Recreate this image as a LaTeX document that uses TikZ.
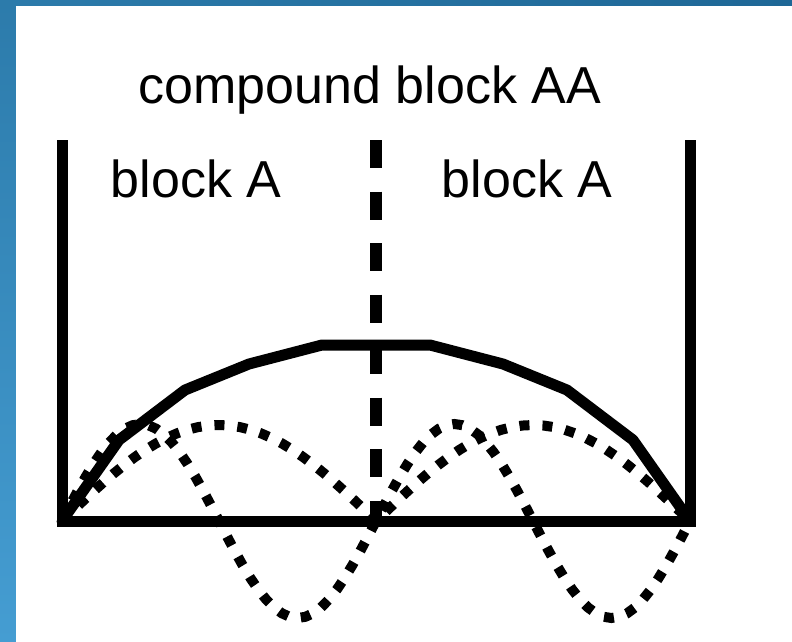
\documentclass[tikz,border=0pt]{standalone}
\usepackage{fontspec}
\setmainfont{Liberation Sans}
\usepackage{tikz}

\definecolor{frameTop}{HTML}{1E6796}
\definecolor{frameMid}{HTML}{2C7BAB}
\definecolor{frameLow}{HTML}{459DD2}

\begin{document}
\begin{tikzpicture}[
    x=1pt, y=-1pt,
    txt/.style={font=\fontsize{52}{60}\selectfont, anchor=base, inner sep=0pt},
    wall/.style={line width=11pt, line join=miter},
    divider/.style={line width=12pt, dash pattern=on 28pt off 23.5pt},
    envelope/.style={line width=11pt, line join=round, line cap=round},
    mode/.style={line width=10pt, dash pattern=on 10pt off 13pt}
]
\useasboundingbox (0,0) rectangle (792,642);
% blue frame
\shade[top color=frameMid, bottom color=frameLow] (0,0) rectangle (16,642);
\shade[left color=frameMid, right color=frameTop] (0,0) rectangle (792,6);
\fill[white] (16,6) rectangle (792,642);

\coordinate (tl) at (62,140);
\coordinate (bl) at (62,521);
\coordinate (br) at (690,521);
\coordinate (tr) at (690,140);
\coordinate (mt) at (376,140);
\coordinate (mb) at (376,527);

\node[txt] (title) at (370,103) {compound block AA};
\node[txt] (leftblock) at (196,197) {block A};
\node[txt] (rightblock) at (527,197) {block A};

% walls and the joint between the two blocks
\draw[wall] (tl) -- (bl) -- (br) -- (tr);
\draw[divider] (mt) -- (mb);

% lowest mode of the compound block
\draw[envelope] (bl) -- (119,440) -- (185,390) -- (249,364) -- (322,345)
    -- (430,345) -- (503,364) -- (567,390) -- (633,440) -- (br);

% modes of the single blocks
\draw[mode] plot[domain=0:1, samples=61] ({62+628*\x},{521-96*abs(sin(360*\x))});
\draw[mode] plot[domain=0:1, samples=81] ({62+628*\x},{521-97*sin(720*\x)});
\end{tikzpicture}
\end{document}
